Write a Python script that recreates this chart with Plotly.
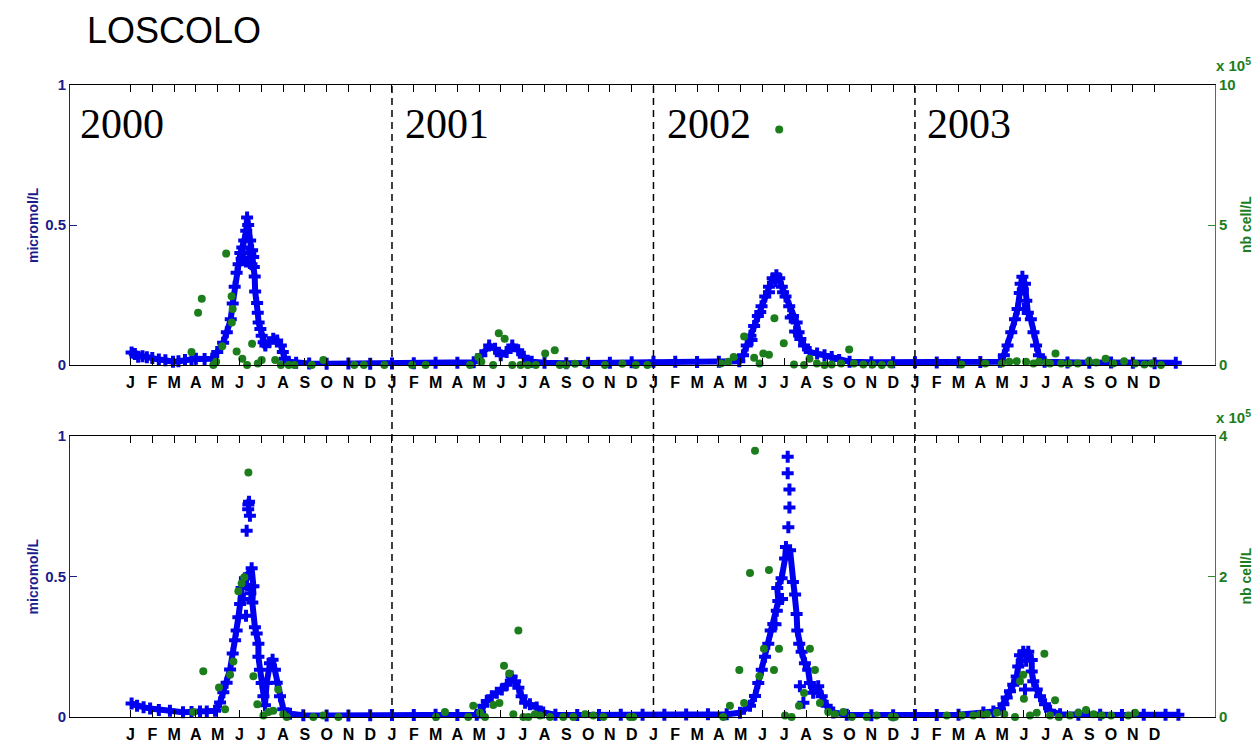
import plotly.graph_objects as go

# ---------------- data (x = months since Jan 2000) ----------------
month_letters = ["J", "F", "M", "A", "M", "J", "J", "A", "S", "O", "N", "D"]
tick_pos = list(range(48))
tick_text = month_letters * 4
years = ["2000", "2001", "2002", "2003"]
year_label_x = [-2.41, 12.5, 24.55, 36.48]
year_bounds = [12, 24, 36]

# top panel, blue (micromol/L) main curve
top_blue = [(0.05, 0.045), (0.2, 0.04), (0.35, 0.03), (0.55, 0.032), (0.75, 0.028), (1.0, 0.025),
            (1.3, 0.02), (1.6, 0.017), (1.95, 0.012), (2.2, 0.014), (2.5, 0.018), (2.8, 0.02),
            (3.0, 0.023), (3.4, 0.022), (3.75, 0.023), (3.98, 0.047), (4.25, 0.08), (4.42, 0.117),
            (4.60, 0.164), (4.69, 0.22), (4.78, 0.28), (4.87, 0.33), (4.96, 0.36), (5.04, 0.40),
            (5.13, 0.42), (5.22, 0.445), (5.31, 0.48), (5.35, 0.527), (5.40, 0.50), (5.49, 0.445),
            (5.58, 0.41), (5.63, 0.386), (5.66, 0.35), (5.70, 0.316), (5.72, 0.263), (5.81, 0.222),
            (5.84, 0.187), (5.88, 0.152), (5.96, 0.129), (6.02, 0.105), (6.11, 0.082), (6.19, 0.07),
            (6.37, 0.082), (6.55, 0.094), (6.73, 0.088), (6.90, 0.07), (6.99, 0.047), (7.08, 0.023),
            (7.26, 0.012), (7.6, 0.008), (8.2, 0.006), (9, 0.005), (10, 0.006), (11, 0.005),
            (12, 0.006), (13, 0.007), (14, 0.008), (15, 0.008), (15.75, 0.01), (16.1, 0.035),
            (16.46, 0.07), (16.73, 0.058), (16.99, 0.035), (17.26, 0.047), (17.52, 0.07),
            (17.79, 0.053), (18.05, 0.03), (18.41, 0.012), (19, 0.008), (20, 0.007), (21, 0.008),
            (22, 0.008), (23, 0.01), (24, 0.012), (25, 0.012), (26, 0.011), (27, 0.012),
            (27.94, 0.014), (28.11, 0.035), (28.28, 0.07), (28.45, 0.105), (28.62, 0.14),
            (28.79, 0.175), (28.96, 0.21), (29.13, 0.245), (29.30, 0.28), (29.47, 0.31),
            (29.64, 0.321), (29.77, 0.31), (29.89, 0.28), (30.06, 0.245), (30.23, 0.21),
            (30.40, 0.175), (30.57, 0.152), (30.66, 0.117), (30.74, 0.093), (30.91, 0.07),
            (31.17, 0.047), (31.51, 0.041), (31.85, 0.035), (32.18, 0.029), (32.52, 0.018),
            (33, 0.012), (34, 0.01), (35, 0.01), (36, 0.01), (37, 0.009), (38, 0.01), (39, 0.011),
            (39.9, 0.012), (40.08, 0.035), (40.25, 0.07), (40.42, 0.117), (40.59, 0.164),
            (40.71, 0.2), (40.81, 0.257), (40.93, 0.315), (41.05, 0.29), (41.11, 0.23),
            (41.18, 0.187), (41.32, 0.164), (41.44, 0.117), (41.56, 0.07), (41.69, 0.035),
            (41.95, 0.012), (43, 0.009), (44, 0.008), (45, 0.009), (46, 0.008), (47, 0.007),
            (47.97, 0.008)]
# top panel, blue scattered points around the peaks
top_blue_extra = [(5.1, 0.38), (5.3, 0.37), (5.45, 0.38), (5.5, 0.40), (5.55, 0.36), (5.2, 0.40),
                  (28.5, 0.09), (28.9, 0.19), (29.3, 0.26), (29.6, 0.30), (29.95, 0.26),
                  (30.3, 0.17), (30.5, 0.12), (40.85, 0.29), (40.95, 0.27), (41.0, 0.2)]
# top panel, green (nb cell/L, x 1e5)
top_green = [(2.80, 0.47), (3.10, 1.87), (3.27, 2.37), (3.80, 0.0), (3.93, 0.12), (4.21, 0.67),
             (4.39, 3.98), (4.64, 2.46), (4.69, 2.0), (4.65, 1.52), (4.87, 0.49), (5.13, 0.23),
             (5.35, 0.0), (5.58, 0.76), (5.84, 0.06), (6.02, 0.18), (6.64, 0.18), (6.90, 0.0),
             (7.26, 0.0), (7.52, 0.0), (8.32, 0.0), (8.85, 0.18), (10.27, 0.0), (10.71, 0.0),
             (11.65, 0.0), (12.92, 0.0), (13.54, 0.0), (15.58, 0.0), (15.96, 0.29), (16.10, 0.12),
             (16.64, 0.0), (16.90, 1.14), (17.17, 0.94), (17.52, 0.0), (17.9, 0.0), (18.23, 0.0),
             (18.6, 0.0), (19.03, 0.41), (19.47, 0.53), (19.7, 0.0), (20.0, 0.0), (20.4, 0.05),
             (20.88, 0.05), (21.77, 0.0), (22.57, 0.05), (23.19, 0.0), (23.72, 0.0),
             (27.09, 0.06), (27.43, 0.12), (27.68, 0.29), (28.16, 1.02), (28.62, 0.26),
             (28.87, 0.06), (29.04, 0.41), (29.30, 0.37), (29.55, 1.67), (29.77, 8.41),
             (29.98, 0.78), (30.45, 0.02), (30.91, 0.0), (31.16, 0.23), (31.5, 0.06), (31.85, 0.0),
             (32.18, 0.02), (32.61, 0.06), (32.98, 0.56), (33.2, 0.06), (33.63, 0.02), (34.05, 0.02),
             (34.48, 0.0), (34.9, 0.02), (38.13, 0.02), (39.23, 0.06), (39.99, 0.06), (40.33, 0.12),
             (40.67, 0.14), (41.1, 0.12), (41.44, 0.06), (41.69, 0.12), (42.03, 0.09), (42.2, 0.06),
             (42.45, 0.41), (42.71, 0.06), (43.05, 0.06), (43.47, 0.06), (43.98, 0.14), (44.32, 0.09),
             (44.75, 0.23), (45.1, 0.06), (45.6, 0.14), (46.1, 0.06), (46.53, 0.02), (46.87, 0.06),
             (47.29, 0.0)]

# bottom panel, blue main curve
bot_blue = [(0.05, 0.048), (0.3, 0.04), (0.6, 0.035), (0.9, 0.03), (1.3, 0.025), (1.81, 0.022),
            (2.41, 0.017), (2.8, 0.018), (3.19, 0.02), (3.5, 0.02), (3.88, 0.022), (4.11, 0.052),
            (4.26, 0.088), (4.41, 0.122), (4.57, 0.169), (4.69, 0.226), (4.80, 0.273),
            (4.87, 0.308), (4.95, 0.355), (5.03, 0.402), (5.10, 0.459), (5.25, 0.494),
            (5.56, 0.529), (5.64, 0.465), (5.59, 0.407), (5.71, 0.319), (5.79, 0.297),
            (5.87, 0.261), (5.87, 0.214), (5.94, 0.168), (6.02, 0.121), (6.10, 0.074),
            (6.17, 0.042), (6.25, 0.121), (6.40, 0.191), (6.52, 0.204), (6.63, 0.168),
            (6.71, 0.122), (6.86, 0.074), (7.01, 0.028), (7.32, 0.012), (7.93, 0.006), (9, 0.005),
            (10, 0.005), (11, 0.006), (12, 0.007), (13, 0.007), (14, 0.008), (15, 0.007),
            (15.89, 0.008), (16.04, 0.016), (16.19, 0.04), (16.35, 0.057), (16.58, 0.074),
            (16.81, 0.086), (17.04, 0.098), (17.27, 0.115), (17.49, 0.144), (17.65, 0.127),
            (17.80, 0.104), (17.95, 0.074), (18.11, 0.051), (18.33, 0.045), (18.64, 0.034),
            (18.94, 0.016), (19.5, 0.008), (20.5, 0.007), (21.5, 0.007), (22.5, 0.008),
            (23.5, 0.008), (24.5, 0.008), (25.5, 0.009), (26.5, 0.01), (27.36, 0.01),
            (27.97, 0.015), (28.43, 0.04), (28.66, 0.075), (28.81, 0.121), (28.97, 0.168),
            (29.12, 0.214), (29.27, 0.261), (29.38, 0.308), (29.50, 0.331), (29.66, 0.378),
            (29.73, 0.413), (29.68, 0.459), (29.88, 0.494), (30.04, 0.564), (30.08, 0.605),
            (30.27, 0.593), (30.50, 0.436), (30.57, 0.366), (30.60, 0.308), (30.69, 0.261),
            (30.80, 0.232), (30.95, 0.191), (31.10, 0.168), (31.18, 0.121), (31.33, 0.086),
            (31.56, 0.109), (31.72, 0.074), (31.95, 0.04), (32.25, 0.016), (32.87, 0.008),
            (34, 0.006), (35, 0.006), (36, 0.007), (37, 0.007), (38, 0.008), (39.14, 0.016),
            (39.6, 0.02), (39.9, 0.028), (40.06, 0.045), (40.21, 0.069), (40.36, 0.092),
            (40.51, 0.115), (40.67, 0.144), (40.74, 0.18), (40.82, 0.22), (40.97, 0.232),
            (41.20, 0.232), (41.36, 0.203), (41.36, 0.162), (41.43, 0.127), (41.59, 0.098),
            (41.74, 0.074), (41.97, 0.045), (42.2, 0.022), (42.66, 0.01), (43.5, 0.008),
            (44.5, 0.008), (45.5, 0.007), (46.5, 0.008), (47.5, 0.008), (48.09, 0.008)]
bot_blue_extra = [(5.33, 0.663), (5.41, 0.756), (5.44, 0.766), (5.40, 0.739), (5.48, 0.716),
                  (5.2, 0.42), (5.35, 0.47), (5.5, 0.44), (5.3, 0.36),
                  (30.19, 0.675), (30.24, 0.745), (30.24, 0.809), (30.16, 0.867), (30.16, 0.926),
                  (30.72, 0.109), (30.88, 0.051), (29.9, 0.42), (29.6, 0.33), (30.4, 0.48),
                  (41.05, 0.098), (41.1, 0.2), (40.9, 0.2)]
bot_green = [(2.88, 0.07), (3.34, 0.65), (4.06, 0.42), (4.34, 0.11), (4.57, 0.6), (4.72, 0.79),
             (4.95, 1.79), (5.1, 1.9), (5.22, 1.99), (5.41, 3.48), (5.64, 0.58), (5.82, 0.18),
             (6.10, 0.02), (6.33, 0.07), (6.55, 0.09), (6.78, 0.39), (7.01, 0.04), (7.17, 0.0),
             (8.39, 0.0), (8.85, 0.02), (9.54, 0.0),
             (14.02, 0.0), (14.43, 0.07), (15.5, 0.0), (15.73, 0.16), (16.04, 0.06), (16.27, 0.0),
             (16.65, 0.17), (16.93, 0.2), (17.14, 0.73), (17.38, 0.62), (17.57, 0.04), (17.80, 1.23),
             (18.03, 0.0), (18.26, 0.0), (18.56, 0.04), (18.79, 0.02), (19.25, 0.0), (19.86, 0.0),
             (20.32, 0.0), (20.86, 0.04), (21.24, 0.02), (21.7, 0.0), (22.92, 0.0), (23.07, 0.0),
             (27.2, 0.0), (27.51, 0.16), (27.94, 0.67), (28.16, 0.2), (28.43, 2.05), (28.66, 3.79),
             (28.86, 0.58), (29.07, 0.97), (29.30, 2.09), (29.53, 0.67), (29.76, 0.97), (30.04, 0.02),
             (30.34, 0.0), (30.68, 0.16), (30.91, 0.34), (31.18, 0.97), (31.41, 0.67), (31.64, 0.2),
             (32.02, 0.07), (32.33, 0.04), (32.71, 0.07), (33.1, 0.0), (33.79, 0.0), (34.24, 0.02),
             (34.93, 0.0),
             (35.08, 0.0), (37.46, 0.02), (38.15, 0.02), (38.68, 0.02), (38.99, 0.04), (39.3, 0.04),
             (39.75, 0.06), (40.1, 0.04), (40.59, 0.0), (40.82, 0.51), (40.97, 0.6), (41.0, 0.26),
             (41.28, 0.02), (41.59, 0.06), (41.94, 0.9), (42.2, 0.02), (42.43, 0.24), (42.6, 0.0),
             (43.11, 0.02), (43.5, 0.06), (43.85, 0.1), (44.2, 0.04), (44.57, 0.02), (45.0, 0.02),
             (45.79, 0.02), (46.1, 0.06)]

# ---------------- style ----------------
BLUE = "#0000f0"
GREEN = "#1c7d1c"
NAVY = "#1c1c8c"
GREEN_AX = "#2e8b2e"
XR = [-2.777, 49.77]
TOP_DOM = [0.5568, 1.0]
BOT_DOM = [0.0, 0.4448]
FONT = "Liberation Sans, Arial"


def xs(p):
    return [a for a, _ in p]


def ys(p):
    return [b for _, b in p]


fig = go.Figure()


def add_panel(main, extra, green, xa, ya, ya2):
    fig.add_trace(go.Scatter(x=xs(main), y=ys(main), mode="lines+markers", xaxis=xa, yaxis=ya,
                             line=dict(color=BLUE, width=6),
                             marker=dict(symbol="cross", size=10, color=BLUE, line=dict(width=0)),
                             cliponaxis=False, showlegend=False, hoverinfo="skip"))
    fig.add_trace(go.Scatter(x=xs(extra), y=ys(extra), mode="markers", xaxis=xa, yaxis=ya,
                             marker=dict(symbol="cross", size=10, color=BLUE, line=dict(width=0)),
                             cliponaxis=False, showlegend=False, hoverinfo="skip"))
    fig.add_trace(go.Scatter(x=xs(green), y=ys(green), mode="markers", xaxis=xa, yaxis=ya2,
                             marker=dict(symbol="circle", size=8, color=GREEN, line=dict(width=0)),
                             cliponaxis=False, showlegend=False, hoverinfo="skip"))


add_panel(top_blue, top_blue_extra, top_green, "x", "y", "y2")
add_panel(bot_blue, bot_blue_extra, bot_green, "x2", "y3", "y4")

xcommon = dict(range=XR, tickmode="array", tickvals=tick_pos, ticktext=tick_text,
               ticks="inside", ticklen=7, tickcolor="black", showline=True, linecolor="black",
               linewidth=1, mirror="ticks", showgrid=False, zeroline=False,
               tickfont=dict(family=FONT, size=16, color="black", weight="bold"),
               ticklabelstandoff=3)
yleft = dict(range=[0, 1], tickmode="array", tickvals=[0, 0.5, 1], ticktext=["0", "0.5", "1"],
             ticks="inside", ticklen=7, tickcolor=NAVY, showline=True, linecolor=NAVY,
             showgrid=False, zeroline=False,
             tickfont=dict(family=FONT, size=15, color=NAVY, weight="bold"))
yright = dict(ticks="inside", ticklen=7, tickcolor=GREEN_AX, showline=True, linecolor=GREEN_AX,
              showgrid=False, zeroline=False, side="right",
              tickfont=dict(family=FONT, size=15, color=GREEN, weight="bold"))

fig.update_layout(
    width=1256, height=755, autosize=False,
    margin=dict(l=70, r=41, t=85, b=27),
    paper_bgcolor="white", plot_bgcolor="white",
    xaxis=dict(**xcommon, domain=[0, 1], anchor="y"),
    xaxis2=dict(**xcommon, domain=[0, 1], anchor="y3"),
    yaxis=dict(**yleft, domain=TOP_DOM, anchor="x"),
    yaxis2=dict(**yright, range=[0, 10], tickmode="array", tickvals=[0, 5, 10],
                ticktext=["0", "5", "10"], overlaying="y", anchor="x"),
    yaxis3=dict(**yleft, domain=BOT_DOM, anchor="x2"),
    yaxis4=dict(**yright, range=[0, 4], tickmode="array", tickvals=[0, 2, 4],
                ticktext=["0", "2", "4"], overlaying="y3", anchor="x2"),
)

# dashed year separators spanning both panels
for b in year_bounds:
    fig.add_shape(type="line", xref="x", yref="paper", x0=b, x1=b, y0=0, y1=1,
                  line=dict(color="black", width=1.5, dash="7px,5px"))

# year labels
for name, xv in zip(years, year_label_x):
    fig.add_annotation(text=name, xref="x", yref="paper", x=xv, y=0.9378, xanchor="left",
                       yanchor="middle", showarrow=False,
                       font=dict(family="Liberation Serif, Times New Roman", size=42, color="black"))

# title
fig.add_annotation(text="LOSCOLO", xref="paper", yref="paper", x=0.0131, y=1.086, xanchor="left",
                   yanchor="middle", showarrow=False,
                   font=dict(family=FONT, size=36, color="black"))

# axis titles
for yc in [0.7784, 0.2224]:
    fig.add_annotation(text="micromol/L", xref="paper", yref="paper", x=-0.0323, y=yc,
                       xanchor="center", yanchor="middle", textangle=-90, showarrow=False,
                       font=dict(family=FONT, size=14, color=NAVY, weight="bold"))
    fig.add_annotation(text="nb cell/L", xref="paper", yref="paper", x=1.0271, y=yc,
                       xanchor="center", yanchor="middle", textangle=-90, showarrow=False,
                       font=dict(family=FONT, size=14, color=GREEN, weight="bold"))
for yc in [1.032, 0.476]:
    fig.add_annotation(text="x 10<sup>5</sup>", xref="paper", yref="paper", x=0.9991, y=yc,
                       xanchor="left", yanchor="middle", showarrow=False,
                       font=dict(family=FONT, size=15, color=GREEN, weight="bold"))

fig.write_html("out.html")
